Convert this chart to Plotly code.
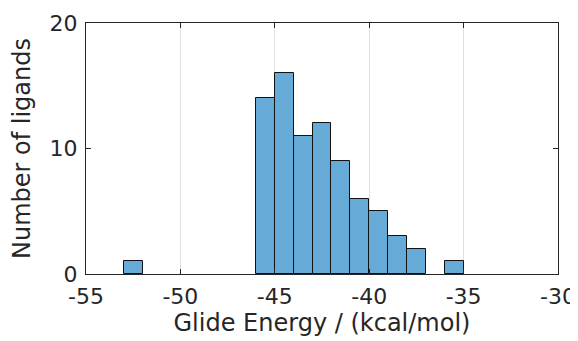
import plotly.graph_objects as go

bin_left = [-53, -46, -45, -44, -43, -42, -41, -40, -39, -38, -36]
counts = [1, 14, 16, 11, 12, 9, 6, 5, 3, 2, 1]
bin_width = 1
x_ticks = [-55, -50, -45, -40, -35, -30]
y_ticks = [0, 10, 20]

axis_col = "#262626"
fig = go.Figure(go.Bar(
    x=bin_left, y=counts, width=bin_width, offset=0,
    marker=dict(color="rgb(102,170,215)", line=dict(color="#111111", width=1)),
))

# page body has an 8px margin, so the figure is sized to fit the window
fig.update_layout(
    width=570, height=333,
    margin=dict(l=78, r=20, t=15, b=67),
    paper_bgcolor="white", plot_bgcolor="white",
    font=dict(family="DejaVu Sans", color=axis_col, size=22),
    showlegend=False, bargap=0,
)
fig.update_xaxes(
    range=[-55, -30], tickvals=x_ticks, ticktext=[str(v) for v in x_ticks],
    showline=True, linecolor=axis_col, linewidth=1, mirror="ticks",
    ticks="inside", ticklen=5, tickcolor=axis_col, tickwidth=1,
    showgrid=True, gridcolor="#e0e0e0", gridwidth=1, zeroline=False,
    tickfont=dict(size=22), automargin=False, ticklabelstandoff=3,
    title=dict(text="Glide Energy / (kcal/mol)", font=dict(size=24), standoff=5),
)
fig.update_yaxes(
    range=[0, 20], tickvals=y_ticks,
    showline=True, linecolor=axis_col, linewidth=1, mirror="ticks",
    ticks="inside", ticklen=5, tickcolor=axis_col, tickwidth=1,
    showgrid=False, zeroline=False,
    tickfont=dict(size=22), automargin=False, ticklabelstandoff=3,
    title=dict(text="Number of ligands", font=dict(size=24), standoff=14),
)
fig.write_html("out.html")
